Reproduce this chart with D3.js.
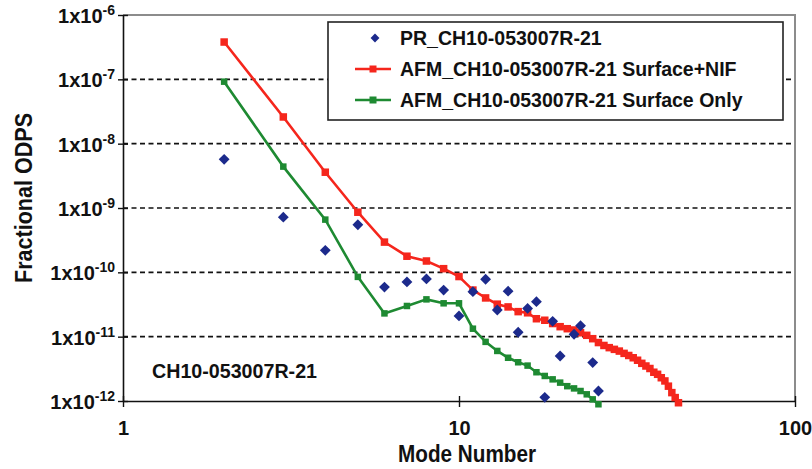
<!DOCTYPE html>
<html>
<head>
<meta charset="utf-8">
<script src="https://cdn.jsdelivr.net/npm/d3@7"></script>
<style>
  body { margin: 0; background: #fff; }
  text { font-family: "Liberation Sans", Arial, Helvetica, sans-serif; font-weight: bold; }
</style>
</head>
<body>
<div id="chart"></div>
<script>
// mode numbers and fractional ODPS
var prModes = [2, 3, 4, 5, 6, 7, 8, 9, 10, 11, 12, 13, 14, 15, 16, 17, 18, 19, 20, 22, 23, 25, 26];
var prValues = [5.7e-9, 7.2e-10, 2.2e-10, 5.5e-10, 5.9e-11, 7.1e-11, 7.9e-11, 5.3e-11, 2.1e-11, 5.0e-11,
  7.8e-11, 2.6e-11, 5.1e-11, 1.17e-11, 2.75e-11, 3.5e-11, 1.14e-12, 1.73e-11, 5.0e-12, 1.09e-11,
  1.48e-11, 3.95e-12, 1.43e-12];

var nifModes = [2, 3, 4, 5, 6, 7, 8, 9, 10, 11, 12, 13, 14, 15, 16, 17, 18, 19, 20, 21, 22, 23, 24,
  25, 26, 27, 28, 29, 30, 31, 32, 33, 34, 35, 36, 37, 38, 39, 40, 41, 42, 43, 44, 45];
var nifValues = [3.8e-7, 2.6e-8, 3.6e-9, 8.6e-10, 2.95e-10, 1.78e-10, 1.5e-10, 1.14e-10, 8.6e-11, 5.3e-11,
  4.0e-11, 3.2e-11, 2.9e-11, 2.45e-11, 2.35e-11, 1.9e-11, 1.8e-11, 1.6e-11, 1.43e-11, 1.33e-11,
  1.27e-11, 1.15e-11, 1.05e-11, 9.3e-12, 8.1e-12, 7.3e-12, 6.75e-12, 6.35e-12, 5.97e-12, 5.5e-12,
  5.1e-12, 4.7e-12, 4.3e-12, 3.85e-12, 3.5e-12, 3.2e-12, 2.8e-12, 2.6e-12, 2.3e-12, 2.05e-12,
  1.7e-12, 1.35e-12, 1.13e-12, 9.4e-13];

var surfModes = [2, 3, 4, 5, 6, 7, 8, 9, 10, 11, 12, 13, 14, 15, 16, 17, 18, 19, 20, 21, 22, 23, 24, 25, 26];
var surfValues = [9.2e-8, 4.4e-9, 6.6e-10, 8.5e-11, 2.3e-11, 3.0e-11, 3.8e-11, 3.3e-11, 3.3e-11, 1.33e-11,
  8.3e-12, 6.0e-12, 4.7e-12, 4.0e-12, 3.55e-12, 2.8e-12, 2.45e-12, 2.17e-12, 1.93e-12, 1.7e-12,
  1.57e-12, 1.43e-12, 1.27e-12, 1.06e-12, 8.9e-13];

var xTicks = [1, 10, 100];
var yTicks = [1e-6, 1e-7, 1e-8, 1e-9, 1e-10, 1e-11, 1e-12];
var gridTicks = [1e-7, 1e-8, 1e-9, 1e-10, 1e-11];

var legendLabels = ["PR_CH10-053007R-21", "AFM_CH10-053007R-21 Surface+NIF", "AFM_CH10-053007R-21 Surface Only"];
var sampleLabel = "CH10-053007R-21";

var width = 812, height = 469;
var red = "#f5261c", green = "#1e8a32", blue = "#1c2a8c";

var svg = d3.select("#chart")
  .append("svg")
  .attr("width", width)
  .attr("height", height);

var x = d3.scaleLog().domain([1, 100]).range([123, 795]);
var y = d3.scaleLog().domain([1e-12, 1e-6]).range([401, 15]);

// dashed gridlines
svg.append("g")
  .selectAll("line")
  .data(gridTicks)
  .enter().append("line")
  .attr("x1", x(1)).attr("x2", x(100))
  .attr("y1", d => y(d)).attr("y2", d => y(d))
  .attr("stroke", "#111")
  .attr("stroke-width", 1.6)
  .attr("stroke-dasharray", "5,3.5");

// grey frame top and right
svg.append("path")
  .attr("d", "M" + x(1) + "," + y(1e-6) + "H" + x(100) + "V" + y(1e-12))
  .attr("fill", "none")
  .attr("stroke", "#8c8c8c")
  .attr("stroke-width", 2);

// y axis
var yAxis = svg.append("g")
  .attr("transform", "translate(" + x(1) + ",0)")
  .call(d3.axisLeft(y).tickValues(yTicks).tickSize(5).tickSizeOuter(0).tickFormat(""));
yAxis.select(".domain").attr("stroke", "#111").attr("stroke-width", 1.6);
yAxis.selectAll(".tick line").attr("x1", 5).attr("stroke", "#111").attr("stroke-width", 1.4);
yAxis.selectAll(".tick text").remove();
yAxis.selectAll(".tick").append("text")
  .attr("x", -8)
  .attr("dy", "0.38em")
  .attr("text-anchor", "end")
  .attr("fill", "#111")
  .style("font-size", "20px")
  .each(function(d) {
    var t = d3.select(this);
    t.append("tspan").text("1x10");
    t.append("tspan").attr("dy", -8).style("font-size", "14px").text(Math.round(Math.log10(d)));
  });

// x axis
var xAxis = svg.append("g")
  .attr("transform", "translate(0," + y(1e-12) + ")")
  .call(d3.axisBottom(x).tickValues(xTicks).tickSize(6).tickSizeOuter(0).tickFormat(d3.format("d")));
xAxis.select(".domain").attr("stroke", "#111").attr("stroke-width", 1.6);
xAxis.selectAll(".tick line").attr("y1", -5).attr("stroke", "#111").attr("stroke-width", 1.4);
xAxis.selectAll(".tick text")
  .attr("y", 27)
  .attr("dy", "0.35em")
  .attr("fill", "#111")
  .style("font-size", "20px")
  .style("font-family", "'Liberation Sans', Arial, sans-serif")
  .style("font-weight", "bold");

// axis titles (the original font is narrow and tall)
svg.append("text")
  .attr("x", 467).attr("y", 462)
  .attr("text-anchor", "middle")
  .attr("fill", "#111")
  .attr("textLength", 138)
  .attr("lengthAdjust", "spacingAndGlyphs")
  .style("font-size", "23.5px")
  .text("Mode Number");

svg.append("text")
  .attr("transform", "translate(32,198) rotate(-90)")
  .attr("text-anchor", "middle")
  .attr("fill", "#111")
  .attr("textLength", 170)
  .attr("lengthAdjust", "spacingAndGlyphs")
  .style("font-size", "24px")
  .text("Fractional ODPS");

svg.append("text")
  .attr("x", 152).attr("y", 378)
  .attr("fill", "#111")
  .attr("textLength", 165)
  .attr("lengthAdjust", "spacingAndGlyphs")
  .style("font-size", "20.5px")
  .text(sampleLabel);

// series
var line = d3.line().x(d => x(d[0])).y(d => y(d[1]));
var nifData = nifModes.map((m, i) => [m, nifValues[i]]);
var surfData = surfModes.map((m, i) => [m, surfValues[i]]);
var prData = prModes.map((m, i) => [m, prValues[i]]);

function drawSeries(data, color, size) {
  svg.append("path")
    .datum(data)
    .attr("d", line)
    .attr("fill", "none")
    .attr("stroke", color)
    .attr("stroke-width", 2.6);
  svg.append("g")
    .selectAll("rect")
    .data(data)
    .enter().append("rect")
    .attr("x", d => x(d[0]) - size / 2)
    .attr("y", d => y(d[1]) - size / 2)
    .attr("width", size).attr("height", size)
    .attr("fill", color);
}

var diamond = d3.symbol().type(d3.symbolDiamond2).size(75);

drawSeries(surfData, green, 6.5);
drawSeries(nifData, red, 7.5);

svg.append("g")
  .selectAll("path")
  .data(prData)
  .enter().append("path")
  .attr("d", diamond)
  .attr("transform", d => "translate(" + x(d[0]) + "," + y(d[1]) + ")")
  .attr("fill", blue);

// legend
var legend = svg.append("g");
legend.append("rect")
  .attr("x", 328).attr("y", 22)
  .attr("width", 455).attr("height", 98)
  .attr("fill", "#fff")
  .attr("stroke", "#222")
  .attr("stroke-width", 1.6);

var legendRows = legend.selectAll("g.row")
  .data(legendLabels)
  .enter().append("g")
  .attr("class", "row")
  .attr("transform", (d, i) => "translate(0," + (38 + i * 31) + ")");

legendRows.append("text")
  .attr("x", 400)
  .attr("dy", "0.36em")
  .attr("fill", "#111")
  .style("font-size", "19.5px")
  .text(d => d);

legendRows.filter((d, i) => i === 0).append("path")
  .attr("d", d3.symbol().type(d3.symbolDiamond2).size(50))
  .attr("transform", "translate(375,0)")
  .attr("fill", blue);

[red, green].forEach(function(c, i) {
  var row = legendRows.filter((d, j) => j === i + 1);
  row.append("line")
    .attr("x1", 355).attr("x2", 391)
    .attr("stroke", c).attr("stroke-width", 2.6);
  row.append("rect")
    .attr("x", 369.5).attr("y", -3.5)
    .attr("width", 7).attr("height", 7)
    .attr("fill", c);
});
</script>
</body>
</html>
